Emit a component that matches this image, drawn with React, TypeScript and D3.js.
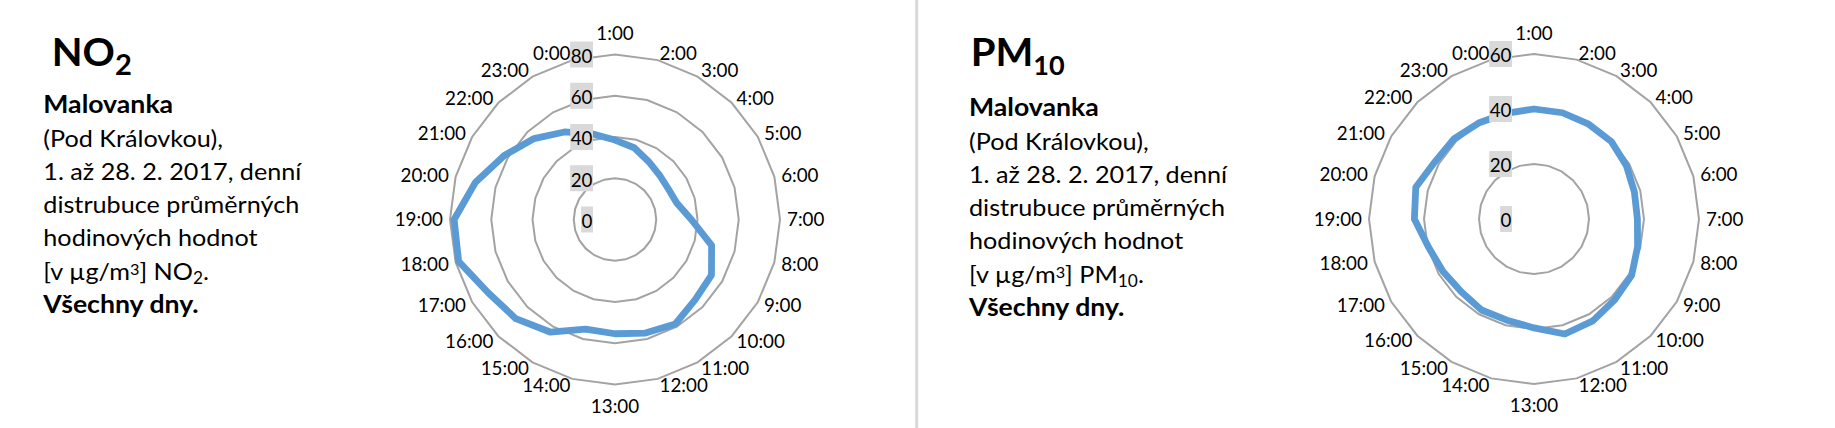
import React from 'react';
import * as d3 from 'd3';

const hours = [
  '1:00', '2:00', '3:00', '4:00', '5:00', '6:00', '7:00', '8:00', '9:00', '10:00', '11:00', '12:00',
  '13:00', '14:00', '15:00', '16:00', '17:00', '18:00', '19:00', '20:00', '21:00', '22:00', '23:00', '0:00',
];

const no2Values = [
  38.5, 36, 32.5, 30.5, 29.8, 31, 37, 48.5, 54, 55, 58.5, 57,
  55.4, 55, 63, 68, 71, 78.5, 78, 70, 62, 55.5, 49, 43,
];

const pm10Values = [
  40, 40, 39.8, 39.8, 38.8, 37.8, 37.6, 39, 41, 41.5, 42.8, 43.3,
  39.6, 38.1, 38.2, 37.4, 38.2, 39.7, 43.5, 44.5, 41.6, 41.2, 40.3, 39.8,
];

const no2Ticks = [0, 20, 40, 60, 80];
const pm10Ticks = [0, 20, 40, 60];

const descLines = [
  '(Pod Královkou),',
  '1. až 28. 2. 2017, denní',
  'distrubuce průměrných',
  'hodinových hodnot',
];

const FONT = 'Lato, "Open Sans", sans-serif';
const W = 1835;
const H = 428;
const R_MAX = 165;

type RadarProps = { cx: number; cy: number; values: number[]; ticks: number[] };

function Radar({ cx, cy, values, ticks }: RadarProps) {
  const max = ticks[ticks.length - 1];
  const r = d3.scaleLinear().domain([0, max]).range([0, R_MAX]);
  const angle = d3.scaleLinear().domain([0, hours.length]).range([0, 2 * Math.PI]);
  const ringGen = d3
    .lineRadial<number>()
    .angle((_, i) => angle(i))
    .radius((d) => r(d))
    .curve(d3.curveLinearClosed);
  const fs = 18.8;
  const labelR = 172;
  return (
    <g>
      {ticks
        .filter((t) => t > 0)
        .map((t) => (
          <path
            key={'ring' + t}
            d={ringGen(hours.map(() => t)) || ''}
            transform={`translate(${cx},${cy})`}
            fill="none"
            stroke="#a3a3a3"
            strokeWidth={2}
          />
        ))}
      <path
        d={ringGen(values) || ''}
        transform={`translate(${cx},${cy})`}
        fill="none"
        stroke="#5b9bd5"
        strokeWidth={6.8}
        strokeLinejoin="round"
      />
      {ticks.map((t) => {
        const label = String(t);
        const w = label.length * 0.58 * fs + 1;
        const yc = cy - r(t);
        return (
          <g key={'tl' + t}>
            <rect x={cx - 22 - w} y={yc - 13} width={w} height={26} fill="#d9d9d9" />
            <text
              x={cx - 22.5}
              y={yc + 8.3}
              textAnchor="end"
              fontFamily={FONT}
              fontSize={fs}
              fill="#000"
            >
              {label}
            </text>
          </g>
        );
      })}
      {hours.map((h, i) => {
        const a = angle(i);
        const s = Math.sin(a);
        const c = Math.cos(a);
        let x = cx + labelR * s;
        let y = cy - labelR * c + 6.7;
        let anchor: 'start' | 'end' | 'middle' = s > 0.01 ? 'start' : s < -0.01 ? 'end' : 'middle';
        if (anchor === 'middle') {
          x = cx;
          y = c > 0 ? cy - 179.5 : cy + 193;
        }
        return (
          <text key={h} x={x} y={y} textAnchor={anchor} fontFamily={FONT} fontSize={fs} fill="#000">
            {h}
          </text>
        );
      })}
    </g>
  );
}

type DescProps = {
  titleX: number;
  textX: number;
  top: number;
  main: string;
  sub: string;
};

function Description({ titleX, textX, top, main, sub }: DescProps) {
  const fs = 24;
  const lh = 33.3;
  const y0 = 113.3 + top;
  const kReg = 1.05;
  const kBold = 1.11;
  return (
    <g fontFamily={FONT} fill="#000">
      <g transform={`translate(${titleX},0) scale(1.04,1)`}>
        <text x={0} y={66} fontSize={38.5} fontWeight="bold">
          {main}
          <tspan fontSize={main === 'NO' ? 28 : 26} dy={9}>
            {sub}
          </tspan>
        </text>
      </g>
      <g transform={`translate(${textX},0) scale(${kBold},1)`}>
        <text x={0} y={y0} fontSize={fs} fontWeight="bold">
          Malovanka
        </text>
        <text x={0} y={y0 + lh * 6} fontSize={fs} fontWeight="bold">
          Všechny dny.
        </text>
      </g>
      <g transform={`translate(${textX},0) scale(${kReg},1)`}>
        {descLines.map((l, i) => (
          <text key={l} x={0} y={y0 + lh * (i + 1)} fontSize={fs}>
            {l}
          </text>
        ))}
        <text x={0} y={y0 + lh * 5} fontSize={fs}>
          [v µg/m
          <tspan fontSize={15.5} dy={-5}>
            3
          </tspan>
          <tspan dy={5}>] {main}</tspan>
          <tspan fontSize={16.5} dy={4.5}>
            {sub}
          </tspan>
          <tspan dy={-4.5}>.</tspan>
        </text>
      </g>
    </g>
  );
}

export default function App() {
  return (
    <svg
      width={W}
      height={H}
      viewBox={`0 0 ${W} ${H}`}
      style={{ position: 'absolute', left: 0, top: 0, display: 'block', background: '#fff' }}
    >
      <rect x={0} y={0} width={W} height={H} fill="#fff" />
      <line x1={916.7} x2={916.7} y1={0} y2={H} stroke="#d9d9d9" strokeWidth={3} />
      <Description titleX={51.7} textX={43.3} top={0} main="NO" sub="2" />
      <Description titleX={970.7} textX={969} top={3} main="PM" sub="10" />
      <Radar cx={615} cy={219.5} values={no2Values} ticks={no2Ticks} />
      <Radar cx={1534} cy={219} values={pm10Values} ticks={pm10Ticks} />
    </svg>
  );
}
